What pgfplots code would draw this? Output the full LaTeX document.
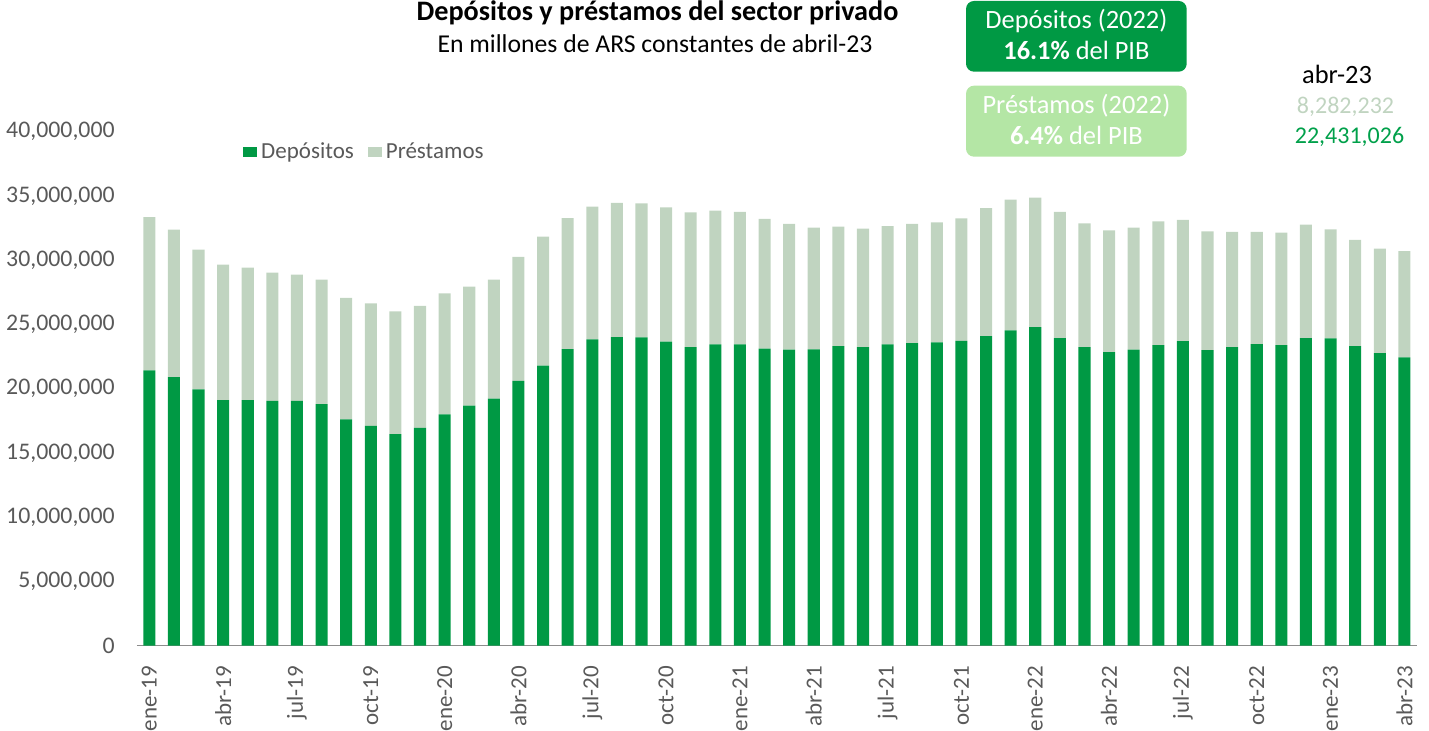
\documentclass[border=0pt]{standalone}
\usepackage{fontspec}
\setmainfont{Carlito}
\usepackage{pgfplots}
\pgfplotsset{compat=1.18}
\usepackage{pgfplotstable}
\definecolor{depgreen}{HTML}{009944}
\definecolor{prestgray}{HTML}{C0D4C0}
\definecolor{boxlight}{HTML}{B4E6A5}
\definecolor{tickgray}{HTML}{595959}
\definecolor{axisgray}{HTML}{8C8C8C}
\definecolor{numgreen}{HTML}{00A04A}

\pgfplotstableread{
x dep prest
0 21430000 11930000
1 20910000 11470000
2 19950000 10870000
3 19120000 10540000
4 19120000 10310000
5 19050000 9990000
6 19050000 9830000
7 18790000 9700000
8 17620000 9450000
9 17100000 9530000
10 16460000 9550000
11 16950000 9500000
12 18010000 9400000
13 18690000 9260000
14 19230000 9260000
15 20600000 9660000
16 21790000 10040000
17 23080000 10200000
18 23840000 10320000
19 24010000 10460000
20 23990000 10430000
21 23660000 10450000
22 23240000 10480000
23 23450000 10400000
24 23450000 10320000
25 23110000 10100000
26 23040000 9780000
27 23060000 9470000
28 23320000 9290000
29 23240000 9210000
30 23450000 9210000
31 23550000 9270000
32 23600000 9340000
33 23730000 9520000
34 24090000 9970000
35 24530000 10180000
36 24790000 10070000
37 23940000 9830000
38 23240000 9630000
39 22850000 9470000
40 23040000 9490000
41 23390000 9630000
42 23700000 9430000
43 23000000 9240000
44 23240000 8960000
45 23470000 8730000
46 23390000 8750000
47 23940000 8820000
48 23910000 8490000
49 23320000 8260000
50 22770000 8130000
51 22431026 8282232
}\datatable

\begin{document}
\begin{tikzpicture}
\useasboundingbox (0,0) rectangle (714.5pt,365.5pt);
\begin{axis}[
  at={(68.5pt,42.65pt)}, anchor=south west,
  scale only axis, width=639.85pt, height=257pt,
  ybar stacked, bar width=0.49,
  xmin=-0.5, xmax=51.5, ymin=0, ymax=40000000,
  axis x line*=bottom, axis y line*=left,
  y axis line style={draw=none},
  x axis line style={draw=axisgray, line width=0.7pt, -},
  ytick={0,5000000,10000000,15000000,20000000,25000000,30000000,35000000,40000000},
  ytick style={draw=none},
  scaled y ticks=false,
  yticklabel style={/pgf/number format/fixed, /pgf/number format/1000 sep={,}, xshift=-11pt, anchor=east, inner sep=0pt, text=tickgray, font=\fontsize{11.9}{13}\selectfont},
  /pgf/number format/assume math mode=true,
  xtick={0,3,...,51},
  xticklabels={ene-19,abr-19,jul-19,oct-19,ene-20,abr-20,jul-20,oct-20,ene-21,abr-21,jul-21,oct-21,ene-22,abr-22,jul-22,oct-22,ene-23,abr-23},
  xtick style={draw=none},
  xticklabel style={yshift=-10pt, rotate=90, anchor=east, inner sep=0pt, text=tickgray, font=\fontsize{11.5}{13}\selectfont},
  extra x ticks={-0.5,2.5,5.5,8.5,11.5,14.5,17.5,20.5,23.5,26.5,29.5,32.5,35.5,38.5,41.5,44.5,47.5,50.5},
  extra x tick labels={},
  extra x tick style={tick align=outside, major tick length=3.85pt, tick style={draw=axisgray, line width=0.7pt}},
  legend style={at={(0.078,0.9605)}, anchor=west, draw=none, fill=none, legend columns=2,
    font=\fontsize{11.5}{13}\selectfont, text=tickgray,
    /tikz/every even column/.append style={column sep=5pt}},
  legend image code/.code={\fill[#1] (0pt,-2.7pt) rectangle (7pt,2.7pt);},
  clip=false,
]
\addplot[fill=depgreen, draw=none] table[x=x, y=dep] {\datatable};
\addplot[fill=prestgray, draw=none] table[x=x, y=prest] {\datatable};
\legend{Depósitos, Préstamos}
\end{axis}

% titles
\node[anchor=base, font=\fontsize{14.1}{16}\selectfont\bfseries] at (328.75pt,355pt) {Depósitos y préstamos del sector privado};
\node[anchor=base, font=\fontsize{12.85}{15}\selectfont] at (327.5pt,339.15pt) {En millones de ARS constantes de abril-23};

% boxes
\fill[depgreen, rounded corners=4pt] (483pt,329.65pt) rectangle (593.35pt,365pt);
\node[anchor=base, text=white, font=\fontsize{13.2}{15}\selectfont] at (538.2pt,351.35pt) {Depósitos (2022)};
\node[anchor=base, text=white, font=\fontsize{13.2}{15}\selectfont] at (538.2pt,335.5pt) {\textbf{16.1\%} del PIB};

\fill[boxlight, rounded corners=4pt] (483pt,287.15pt) rectangle (593.35pt,322.65pt);
\node[anchor=base, text=white, font=\fontsize{13.2}{15}\selectfont] at (538.2pt,308.85pt) {Préstamos (2022)};
\node[anchor=base, text=white, font=\fontsize{13.2}{15}\selectfont] at (538.2pt,293pt) {\textbf{6.4\%} del PIB};

% right labels
\node[anchor=base, text=black, font=\fontsize{13.2}{15}\selectfont] at (668.5pt,323.5pt) {abr-23};
\node[anchor=base, text=prestgray, font=\fontsize{12}{15}\selectfont] at (672.75pt,308.85pt) {8,282,232};
\node[anchor=base, text=numgreen, font=\fontsize{12}{15}\selectfont] at (674.75pt,293.85pt) {22,431,026};
\end{tikzpicture}
\end{document}
